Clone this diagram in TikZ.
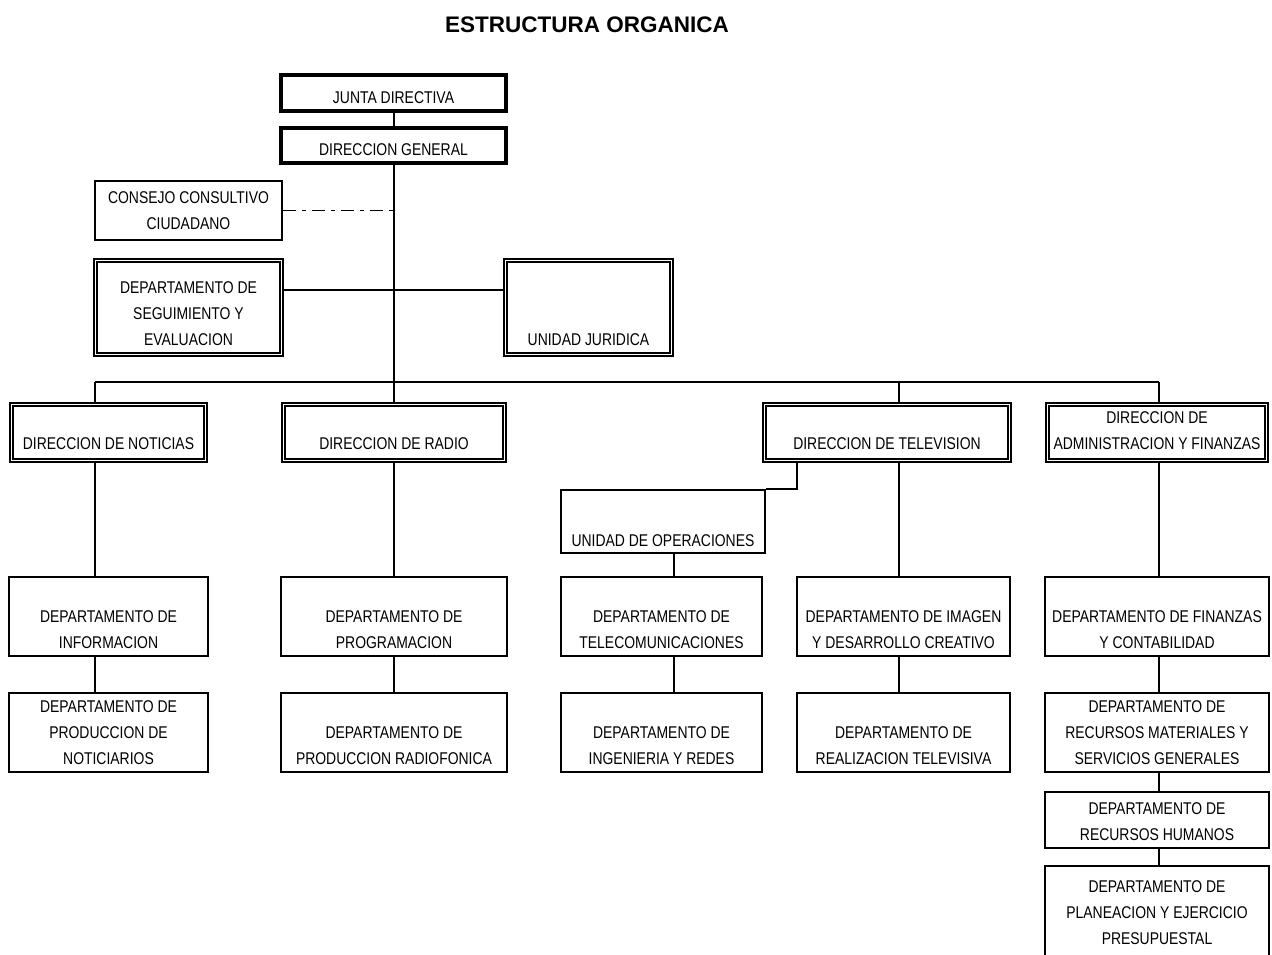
\documentclass[tikz,border=0pt]{standalone}
\usepackage{fontspec}
\usetikzlibrary{positioning}
\newfontfamily\orgfont{Liberation Sans}[FakeStretch=0.82]
\newfontfamily\titlefont{Liberation Sans}

\tikzset{
    box/.style={draw, line width=1.6pt, inner sep=0pt},
    thickbox/.style={draw, line width=3.4pt, inner sep=0pt},
    dblbox/.style={draw, double, double distance=1.8pt, line width=1.6pt, inner sep=0pt},
    txt/.style={inner sep=0pt, align=center, font=\orgfont\fontsize{17}{26}\selectfont},
    link/.style={line width=1.6pt},
}

\begin{document}
\begin{tikzpicture}[x=1pt, y=-1pt]
    \useasboundingbox (0,0) rectangle (1272,955);
    \node[font=\titlefont\bfseries\fontsize{22.5}{26}\selectfont] (title) at (587,25) {ESTRUCTURA ORGANICA};
    % Below nodes are the boxes.
        \node[thickbox, minimum width=225, minimum height=36] (junta) at (393.5,93) {};
        \node[thickbox, minimum width=225, minimum height=35] (dgen) at (393.5,145.5) {};
        \node[box, minimum width=187, minimum height=59] (consejo) at (188.5,210.5) {};
        \node[dblbox, minimum width=186, minimum height=94] (seguim) at (188.5,307.5) {};
        \node[dblbox, minimum width=166, minimum height=94] (jurid) at (588.5,307.5) {};
        \node[dblbox, minimum width=194, minimum height=56] (noticias) at (108.5,432.5) {};
        \node[dblbox, minimum width=221, minimum height=56] (radio) at (394,432.5) {};
        \node[dblbox, minimum width=245, minimum height=56] (tv) at (887,432.5) {};
        \node[dblbox, minimum width=219, minimum height=56] (admin) at (1157,432.5) {};
        \node[box, minimum width=204, minimum height=63] (uop) at (663,521.5) {};
        \node[box, minimum width=199, minimum height=79] (inform) at (108.5,616.5) {};
        \node[box, minimum width=226, minimum height=79] (prog) at (394,616.5) {};
        \node[box, minimum width=201, minimum height=79] (telecom) at (661.5,616.5) {};
        \node[box, minimum width=213, minimum height=79] (imagen) at (903.5,616.5) {};
        \node[box, minimum width=224, minimum height=79] (finanzas) at (1157,616.5) {};
        \node[box, minimum width=199, minimum height=79] (prodnot) at (108.5,732.5) {};
        \node[box, minimum width=226, minimum height=79] (prodrad) at (394,732.5) {};
        \node[box, minimum width=201, minimum height=79] (ingen) at (661.5,732.5) {};
        \node[box, minimum width=213, minimum height=79] (realiz) at (903.5,732.5) {};
        \node[box, minimum width=224, minimum height=79] (recmat) at (1157,732.5) {};
        \node[box, minimum width=224, minimum height=56] (rechum) at (1157,820) {};
        \node[box, minimum width=224, minimum height=94] (planea) at (1157,913) {};
    % Below nodes are the labels.
        \node[txt, above=9pt of junta.south] (juntaT) {JUNTA DIRECTIVA};
        \node[txt, above=9pt of dgen.south] (dgenT) {DIRECCION GENERAL};
        \node[txt, above=11pt of consejo.south] (consejoT) {CONSEJO CONSULTIVO\\CIUDADANO};
        \node[txt, above=9pt of seguim.south] (seguimT) {DEPARTAMENTO DE\\SEGUIMIENTO Y\\EVALUACION};
        \node[txt, above=9pt of jurid.south] (juridT) {UNIDAD JURIDICA};
        \node[txt, above=11pt of noticias.south] (noticiasT) {DIRECCION DE NOTICIAS};
        \node[txt, above=11pt of radio.south] (radioT) {DIRECCION DE RADIO};
        \node[txt, above=11pt of tv.south] (tvT) {DIRECCION DE TELEVISION};
        \node[txt, above=11pt of admin.south] (adminT) {DIRECCION DE\\ADMINISTRACION Y FINANZAS};
        \node[txt, above=7pt of uop.south] (uopT) {UNIDAD DE OPERACIONES};
        \node[txt, above=8pt of inform.south] (informT) {DEPARTAMENTO DE\\INFORMACION};
        \node[txt, above=8pt of prog.south] (progT) {DEPARTAMENTO DE\\PROGRAMACION};
        \node[txt, above=8pt of telecom.south] (telecomT) {DEPARTAMENTO DE\\TELECOMUNICACIONES};
        \node[txt, above=8pt of imagen.south] (imagenT) {DEPARTAMENTO DE IMAGEN\\Y DESARROLLO CREATIVO};
        \node[txt, above=8pt of finanzas.south] (finanzasT) {DEPARTAMENTO DE FINANZAS\\Y CONTABILIDAD};
        \node[txt, above=8pt of prodnot.south] (prodnotT) {DEPARTAMENTO DE\\PRODUCCION DE\\NOTICIARIOS};
        \node[txt, above=8pt of prodrad.south] (prodradT) {DEPARTAMENTO DE\\PRODUCCION RADIOFONICA};
        \node[txt, above=8pt of ingen.south] (ingenT) {DEPARTAMENTO DE\\INGENIERIA Y REDES};
        \node[txt, above=8pt of realiz.south] (realizT) {DEPARTAMENTO DE\\REALIZACION TELEVISIVA};
        \node[txt, above=8pt of recmat.south] (recmatT) {DEPARTAMENTO DE\\RECURSOS MATERIALES Y\\SERVICIOS GENERALES};
        \node[txt, above=8pt of rechum.south] (rechumT) {DEPARTAMENTO DE\\RECURSOS HUMANOS};
        \node[txt, above=16pt of planea.south] (planeaT) {DEPARTAMENTO DE\\PLANEACION Y EJERCICIO\\PRESUPUESTAL};
    % This draws the lines.
        \coordinate (busL) at (95,382);
        \coordinate (busM) at (394,382);
        \coordinate (busTV) at (899,382);
        \coordinate (busR) at (1159,382);
        \draw[link] (junta.south -| busM) -- (dgen.north -| busM);
        \draw[link] (dgen.south -| busM) -- (radio.north -| busM);
        \draw[link, dash pattern=on 13pt off 6pt on 4pt off 6pt] (consejo.east) -- (consejo.east -| busM);
        \draw[link] (seguim.east |- 0,290) -- (jurid.west |- 0,290);
        \draw[link] (busL) -- (busR);
        \draw[link] (busL) -- (noticias.north -| busL);
        \draw[link] (busTV) -- (tv.north -| busTV);
        \draw[link] (busR) -- (admin.north -| busR);
        \draw[link] (noticias.south -| busL) -- (inform.north -| busL);
        \draw[link] (inform.south -| busL) -- (prodnot.north -| busL);
        \draw[link] (radio.south -| busM) -- (prog.north -| busM);
        \draw[link] (prog.south -| busM) -- (prodrad.north -| busM);
        \draw[link] (tv.south -| 797,0) |- (uop.north east);
        \draw[link] (uop.south -| 674,0) -- (telecom.north -| 674,0);
        \draw[link] (telecom.south -| 674,0) -- (ingen.north -| 674,0);
        \draw[link] (tv.south -| busTV) -- (imagen.north -| busTV);
        \draw[link] (imagen.south -| busTV) -- (realiz.north -| busTV);
        \draw[link] (admin.south -| busR) -- (finanzas.north -| busR);
        \draw[link] (finanzas.south -| busR) -- (recmat.north -| busR);
        \draw[link] (recmat.south -| busR) -- (rechum.north -| busR);
        \draw[link] (rechum.south -| busR) -- (planea.north -| busR);
\end{tikzpicture}
\end{document}
